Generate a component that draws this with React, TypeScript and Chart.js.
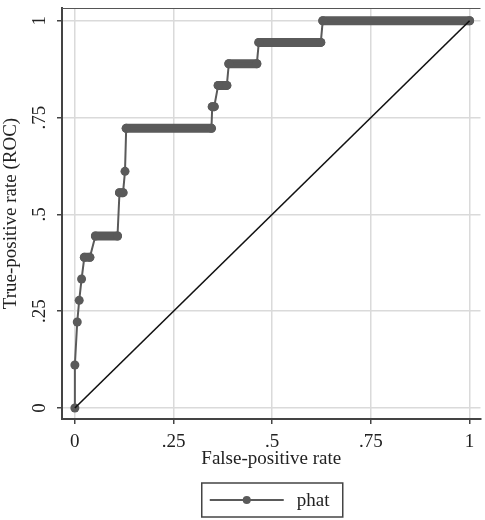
import React, { useEffect, useRef } from "react";
import { Chart, registerables } from "chart.js";

Chart.register(...registerables);

// ROC curve vertices (false-positive rate, true-positive rate)
const rocFpr = [0, 0, 0.006, 0.011, 0.017, 0.024, 0.038, 0.052, 0.108, 0.113, 0.122, 0.127, 0.13, 0.346, 0.348, 0.353, 0.363, 0.385, 0.39, 0.461, 0.466, 0.623, 0.628, 1];
const rocTpr = [0, 0.111, 0.222, 0.278, 0.333, 0.389, 0.389, 0.444, 0.444, 0.556, 0.556, 0.611, 0.722, 0.722, 0.778, 0.778, 0.833, 0.833, 0.889, 0.889, 0.944, 0.944, 1, 1];

// reference diagonal
const diagX = [0, 1];
const diagY = [0, 1];

// axis ticks
const tickValues = [0, 0.25, 0.5, 0.75, 1];
const tickLabels = ["0", ".25", ".5", ".75", "1"];

const seriesName = "phat";
const xTitle = "False-positive rate";
const yTitle = "True-positive rate (ROC)";

const GRAY = "#5a5a5a";
const FONT = "'Liberation Serif', 'Times New Roman', serif";

export default function App() {
  const ref = useRef<HTMLCanvasElement | null>(null);

  useEffect(() => {
    document.body.style.margin = "0";
    const canvas = ref.current;
    if (!canvas) return;

    const rocData = rocFpr.map((x, i) => ({ x, y: rocTpr[i] }));
    // dense runs of markers (consecutive vertices at the same TPR)
    const denseData: { x: number; y: number | null }[] = [];
    for (let i = 0; i < rocFpr.length - 1; i++) {
      if (rocTpr[i] === rocTpr[i + 1]) {
        denseData.push({ x: rocFpr[i], y: rocTpr[i] });
        denseData.push({ x: rocFpr[i + 1], y: rocTpr[i + 1] });
        denseData.push({ x: rocFpr[i + 1], y: null });
      }
    }
    const diagData = diagX.map((x, i) => ({ x, y: diagY[i] }));

    const framePlugin = {
      id: "frameLegend",
      beforeDatasetsDraw(chart: any) {
        const { ctx, chartArea } = chart;
        ctx.save();
        ctx.strokeStyle = "#555";
        ctx.lineWidth = 1.2;
        ctx.beginPath();
        ctx.moveTo(chartArea.left, chartArea.top + 0.5);
        ctx.lineTo(chartArea.right, chartArea.top + 0.5);
        ctx.stroke();
        ctx.restore();
      },
      afterDraw(chart: any) {
        const { ctx, chartArea } = chart;
        const xs = chart.scales.x;
        const cx = (chartArea.left + chartArea.right) / 2;
        const top = xs.bottom + 4;
        const w = 141;
        const h = 34;
        const left = cx - w / 2 + 1;
        ctx.save();
        ctx.strokeStyle = "#444";
        ctx.lineWidth = 1.5;
        ctx.strokeRect(left, top, w, h);
        const my = top + h / 2;
        ctx.strokeStyle = GRAY;
        ctx.lineWidth = 2;
        ctx.beginPath();
        ctx.moveTo(left + 8, my);
        ctx.lineTo(left + 82, my);
        ctx.stroke();
        ctx.fillStyle = GRAY;
        ctx.beginPath();
        ctx.arc(left + 45, my, 4, 0, Math.PI * 2);
        ctx.fill();
        ctx.fillStyle = "#222";
        ctx.font = `19px ${FONT}`;
        ctx.textBaseline = "middle";
        ctx.textAlign = "left";
        ctx.fillText(seriesName, left + 95, my + 1);
        ctx.restore();
      },
    };

    const setTicks = (scale: any) => {
      scale.ticks = tickValues.map((v) => ({ value: v }));
    };
    const fmt = (v: any) => {
      const i = tickValues.indexOf(Number(v));
      return i >= 0 ? tickLabels[i] : "";
    };

    const chart = new Chart(canvas, {
      type: "line",
      data: {
        datasets: [
          {
            label: "diag",
            data: diagData,
            borderColor: "#111",
            borderWidth: 1.6,
            pointRadius: 0,
            fill: false,
          },
          {
            label: seriesName,
            data: rocData,
            borderColor: GRAY,
            borderWidth: 2,
            pointRadius: 4.5,
            pointBackgroundColor: GRAY,
            pointBorderWidth: 0,
            fill: false,
          },
          {
            label: "dense",
            data: denseData as any,
            borderColor: GRAY,
            borderWidth: 9,
            borderCapStyle: "round",
            pointRadius: 0,
            spanGaps: false,
            fill: false,
          },
        ],
      },
      options: {
        animation: false,
        responsive: false,
        layout: { padding: { top: 8, right: 0, bottom: 41, left: 0 } },
        plugins: { legend: { display: false }, tooltip: { enabled: false } },
        scales: {
          x: {
            type: "linear",
            min: -0.0326,
            max: 1.0276,
            afterBuildTicks: setTicks,
            afterFit: (s: any) => {
              s.height = 60;
              s.paddingLeft = 0;
              s.paddingRight = 0;
            },
            border: { display: true, color: "#444", width: 2 },
            grid: { color: "#dadada", lineWidth: 1.5, tickLength: 5, tickColor: "#444", tickWidth: 1.5 },
            ticks: { callback: fmt, color: "#222", padding: 7, font: { family: FONT, size: 19 }, maxRotation: 0, autoSkip: false },
            title: { display: true, text: xTitle, color: "#222", font: { family: FONT, size: 19 }, padding: { top: 0, bottom: 9 } },
          },
          y: {
            type: "linear",
            min: -0.0284,
            max: 1.0328,
            afterBuildTicks: setTicks,
            afterFit: (s: any) => {
              s.width = 62;
              s.paddingTop = 0;
              s.paddingBottom = 0;
            },
            border: { display: true, color: "#444", width: 2 },
            grid: { color: "#dadada", lineWidth: 1.5, tickLength: 5, tickColor: "#444", tickWidth: 1.5 },
            ticks: { callback: fmt, color: "#222", padding: 5, crossAlign: "center", minRotation: 90, maxRotation: 90, font: { family: FONT, size: 19 }, autoSkip: false },
            title: { display: true, text: yTitle, color: "#222", font: { family: FONT, size: 19 }, padding: { top: 0, bottom: 0 } },
          },
        },
      },
      plugins: [framePlugin],
    } as any);

    return () => chart.destroy();
  }, []);

  return <canvas ref={ref} width={485} height={520} style={{ display: "block", width: 485, height: 520 }} />;
}
